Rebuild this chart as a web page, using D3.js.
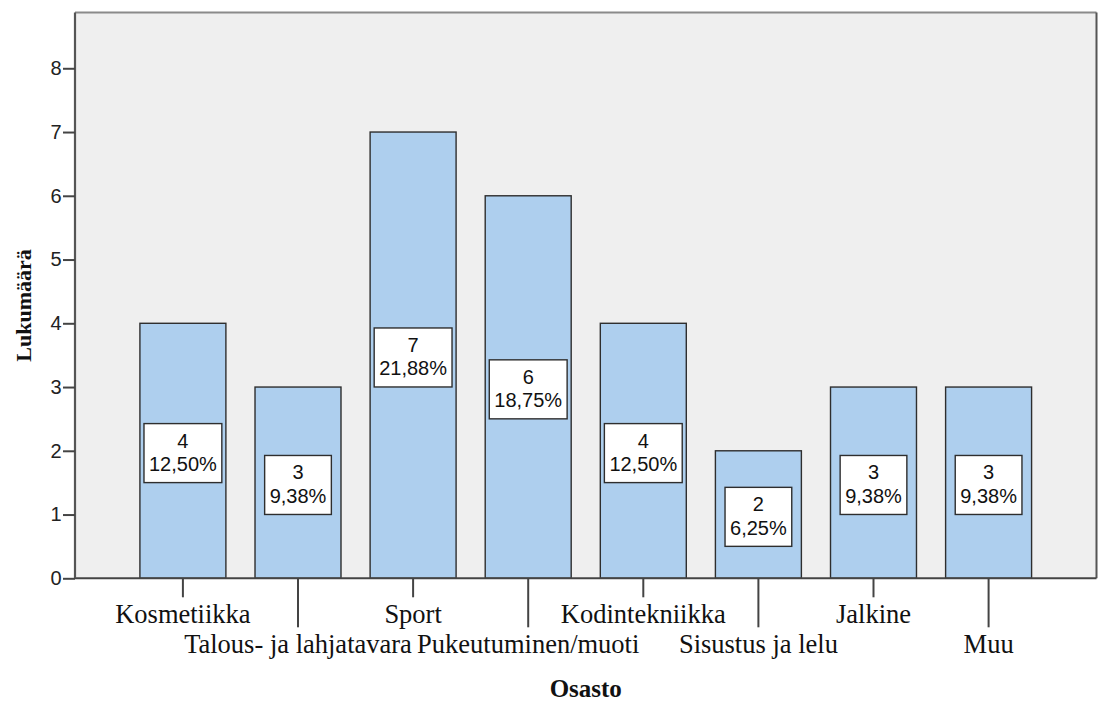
<!DOCTYPE html>
<html>
<head>
<meta charset="utf-8">
<script src="https://cdn.jsdelivr.net/npm/d3@7"></script>
<style>
  html, body { margin: 0; padding: 0; background: #ffffff; }
  svg { display: block; }
</style>
</head>
<body>
<svg id="chart" width="1099" height="702"></svg>
<script>
// Department counts (Osasto) – frequency bar chart
const categories = [
  "Kosmetiikka",
  "Talous- ja lahjatavara",
  "Sport",
  "Pukeutuminen/muoti",
  "Kodintekniikka",
  "Sisustus ja lelu",
  "Jalkine",
  "Muu"
];
const counts = [4, 3, 7, 6, 4, 2, 3, 3];
const yTicks = [0, 1, 2, 3, 4, 5, 6, 7, 8];
const xTitle = "Osasto";
const yTitle = "Lukumäärä";

const svg = d3.select("#chart");
const frame = { left: 75, right: 1096.5, top: 12.5, bottom: 578.3 };

const x = d3.scaleBand()
  .domain(categories)
  .range([frame.left, frame.right])
  .paddingInner(0.253)
  .paddingOuter(0.564);

const y = d3.scaleLinear()
  .domain([0, 8.875])
  .range([frame.bottom, frame.top]);

const total = d3.sum(counts);
const pct = d3.format(".2f");
const data = categories.map((c, i) => ({
  cat: c,
  n: counts[i],
  label: pct(counts[i] / total * 100).replace(".", ",") + "%"
}));

const sans = "'Liberation Sans', Arial, sans-serif";
const serif = "'Liberation Serif', 'Times New Roman', serif";

// plot background
svg.append("rect")
  .attr("x", frame.left).attr("y", frame.top)
  .attr("width", frame.right - frame.left)
  .attr("height", frame.bottom - frame.top)
  .attr("fill", "#efefef");

// bars
svg.append("g").selectAll("rect")
  .data(data)
  .join("rect")
  .attr("x", d => x(d.cat))
  .attr("y", d => y(d.n))
  .attr("width", x.bandwidth())
  .attr("height", d => y(0) - y(d.n))
  .attr("fill", "#aecfee")
  .attr("stroke", "#2e2e2e")
  .attr("stroke-width", 1.4);

// value boxes: count and share, centred at half bar height
const boxes = svg.append("g").selectAll("g")
  .data(data)
  .join("g")
  .attr("transform", d => `translate(${x(d.cat) + x.bandwidth() / 2},${y(d.n / 2) + 2.3})`);

const boxH = 59;
boxes.each(function (d) {
  const g = d3.select(this);
  const r = g.append("rect");
  const t1 = g.append("text")
    .attr("y", -5.5)
    .attr("text-anchor", "middle")
    .attr("font-family", sans).attr("font-size", 20)
    .attr("fill", "#111")
    .text(d.n);
  const t2 = g.append("text")
    .attr("y", 18)
    .attr("text-anchor", "middle")
    .attr("font-family", sans).attr("font-size", 20)
    .attr("fill", "#111")
    .text(d.label);
  const w = Math.max(t1.node().getComputedTextLength(), t2.node().getComputedTextLength()) + 10;
  r.attr("x", -w / 2).attr("y", -boxH / 2)
    .attr("width", w).attr("height", boxH)
    .attr("fill", "#ffffff")
    .attr("stroke", "#2e2e2e")
    .attr("stroke-width", 1.4);
});

// frame lines
svg.append("line")
  .attr("x1", frame.left).attr("x2", frame.right)
  .attr("y1", frame.top).attr("y2", frame.top)
  .attr("stroke", "#8a8a8a").attr("stroke-width", 2);
svg.append("line")
  .attr("x1", frame.right).attr("x2", frame.right)
  .attr("y1", frame.top).attr("y2", frame.bottom)
  .attr("stroke", "#555").attr("stroke-width", 2);
svg.append("line")
  .attr("x1", frame.left).attr("x2", frame.right)
  .attr("y1", frame.bottom).attr("y2", frame.bottom)
  .attr("stroke", "#444").attr("stroke-width", 2);
svg.append("line")
  .attr("x1", frame.left).attr("x2", frame.left)
  .attr("y1", frame.top).attr("y2", frame.bottom)
  .attr("stroke", "#555").attr("stroke-width", 2.2);

// y axis
const yAxis = svg.append("g")
  .attr("transform", `translate(${frame.left},0)`)
  .call(d3.axisLeft(y).tickValues(yTicks).tickSize(12).tickPadding(1.5));
yAxis.select(".domain").remove();
yAxis.selectAll(".tick line").attr("stroke", "#444").attr("stroke-width", 2);
yAxis.selectAll(".tick text")
  .attr("font-family", sans).attr("font-size", 20)
  .attr("fill", "#222");

// x axis with staggered labels
const xAxis = svg.append("g")
  .attr("transform", `translate(0,${frame.bottom})`)
  .call(d3.axisBottom(x).tickSize(19).tickPadding(0));
xAxis.select(".domain").remove();
xAxis.selectAll(".tick line")
  .attr("stroke", "#444").attr("stroke-width", 2)
  .attr("y2", (d, i) => i % 2 === 0 ? 19 : 49);
xAxis.selectAll(".tick text")
  .attr("font-family", serif).attr("font-size", 26.5)
  .attr("fill", "#111")
  .attr("dy", null)
  .attr("y", (d, i) => i % 2 === 0 ? 45 : 75);

// axis titles
svg.append("text")
  .attr("x", (frame.left + frame.right) / 2)
  .attr("y", 697)
  .attr("text-anchor", "middle")
  .attr("font-family", serif).attr("font-weight", "bold").attr("font-size", 25)
  .attr("fill", "#111")
  .text(xTitle);

svg.append("text")
  .attr("transform", `translate(31,${(frame.top + frame.bottom) / 2 + 10}) rotate(-90)`)
  .attr("text-anchor", "middle")
  .attr("font-family", serif).attr("font-weight", "bold").attr("font-size", 22)
  .attr("fill", "#111")
  .text(yTitle);
</script>
</body>
</html>
